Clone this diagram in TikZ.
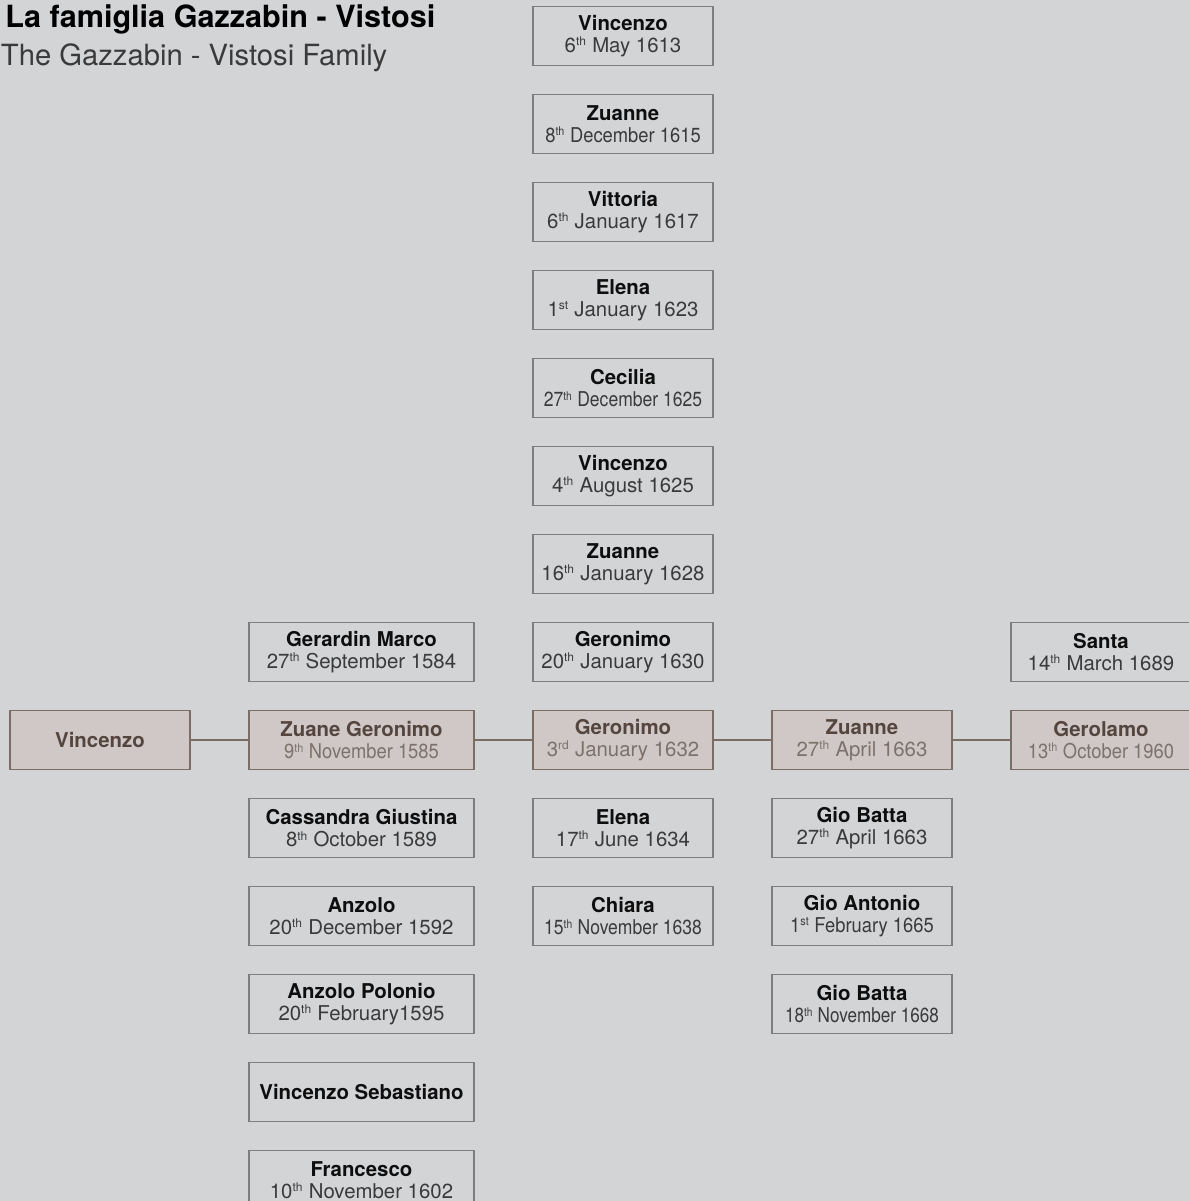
\documentclass[tikz,border=0pt]{standalone}
\usepackage{fontspec}
\setmainfont{TeX Gyre Heros}
\usetikzlibrary{positioning}
\definecolor{gBack}{HTML}{D3D4D6}
\definecolor{gFrame}{HTML}{7E7E7E}
\definecolor{gInk}{HTML}{0E0E0E}
\definecolor{gDate}{HTML}{3A3A3A}
\definecolor{lFill}{HTML}{CFC8C6}
\definecolor{lFrame}{HTML}{7B6C66}
\definecolor{lInk}{HTML}{55453F}
\definecolor{lDate}{HTML}{7D716D}
\colorlet{dateInk}{gDate}
\newcommand{\ord}[1]{\raisebox{0.62ex}{\fontsize{6}{6}\selectfont#1}\kern0.3pt\relax}
\newcommand{\born}[1]{\textcolor{dateInk}{#1}}
\newcommand{\tight}[1]{\scalebox{0.9}[1]{#1}}

\begin{document}
\begin{tikzpicture}[
  node distance=14.5pt and 29.5pt,
  person/.style={rectangle, draw=gFrame, line width=0.7pt, minimum width=90pt,
                 minimum height=29.5pt, inner sep=0pt, outer sep=0pt, align=center,
                 text=gInk, font=\fontsize{10.2}{11.2}\selectfont},
  wide/.style={person, minimum width=112.5pt},
  lin/.style={fill=lFill, draw=lFrame, text=lInk,
              execute at begin node=\colorlet{dateInk}{lDate}},
  kin/.style={draw=lFrame, line width=0.75pt},
]
\useasboundingbox[fill=gBack] (0,0) rectangle (594.5pt,-600.5pt);

% title
\node[anchor=base west, inner sep=0pt, font=\fontsize{15.3}{18}\selectfont\bfseries]
  (title) at (2.5pt,-13.5pt) {La famiglia Gazzabin - Vistosi};
\node[anchor=base west, inner sep=0pt, text=gDate, font=\fontsize{14.6}{18}\selectfont]
  (subtitle) at (0.3pt,-32.5pt) {The Gazzabin - Vistosi Family};

% line of descent
\node[person, lin] (v0) at (50pt,-370pt) {\bfseries Vincenzo};
\node[wide, lin, right=of v0] (z1) {\textbf{Zuane Geronimo}\\\born{\tight{9\ord{th} November 1585}}};
\node[person, lin, right=of z1] (g2) {\textbf{Geronimo}\\\born{3\ord{rd} January 1632}};
\node[person, lin, right=of g2] (z3) {\textbf{Zuanne}\\\born{27\ord{th} April 1663}};
\node[person, lin, right=of z3] (g4) {\textbf{Gerolamo}\\\born{\tight{13\ord{th} October 1960}}};

\draw[kin] (v0) -- (z1);
\draw[kin] (z1) -- (g2);
\draw[kin] (g2) -- (z3);
\draw[kin] (z3) -- (g4);

% children of Zuane Geronimo
\node[wide, above=of z1] (a1) {\textbf{Gerardin Marco}\\\born{27\ord{th} September 1584}};
\node[wide, below=of z1] (a2) {\textbf{Cassandra Giustina}\\\born{8\ord{th} October 1589}};
\node[wide, below=of a2] (a3) {\textbf{Anzolo}\\\born{20\ord{th} December 1592}};
\node[wide, below=of a3] (a4) {\textbf{Anzolo Polonio}\\\born{20\ord{th} February1595}};
\node[wide, below=of a4] (a5) {\bfseries Vincenzo Sebastiano};
\node[wide, below=of a5] (a6) {\textbf{Francesco}\\\born{10\ord{th} November 1602}};

% children of Geronimo
\node[person, above=of g2] (b8) {\textbf{Geronimo}\\\born{20\ord{th} January 1630}};
\node[person, above=of b8] (b7) {\textbf{Zuanne}\\\born{16\ord{th} January 1628}};
\node[person, above=of b7] (b6) {\textbf{Vincenzo}\\\born{4\ord{th} August 1625}};
\node[person, above=of b6] (b5) {\textbf{Cecilia}\\\born{\scalebox{0.86}[1]{27\ord{th} December 1625}}};
\node[person, above=of b5] (b4) {\textbf{Elena}\\\born{1\ord{st} January 1623}};
\node[person, above=of b4] (b3) {\textbf{Vittoria}\\\born{6\ord{th} January 1617}};
\node[person, above=of b3] (b2) {\textbf{Zuanne}\\\born{\tight{8\ord{th} December 1615}}};
\node[person, above=of b2] (b1) {\textbf{Vincenzo}\\\born{6\ord{th} May 1613}};
\node[person, below=of g2] (b9) {\textbf{Elena}\\\born{17\ord{th} June 1634}};
\node[person, below=of b9] (b10) {\textbf{Chiara}\\\born{\scalebox{0.86}[1]{15\ord{th} November 1638}}};

% children of Zuanne
\node[person, below=of z3] (c1) {\textbf{Gio Batta}\\\born{27\ord{th} April 1663}};
\node[person, below=of c1] (c2) {\textbf{Gio Antonio}\\\born{\tight{1\ord{st} February 1665}}};
\node[person, below=of c2] (c3) {\textbf{Gio Batta}\\\born{\scalebox{0.84}[1]{18\ord{th} November 1668}}};

% children of Gerolamo
\node[person, above=of g4] (d1) {\textbf{Santa}\\\born{14\ord{th} March 1689}};

\end{tikzpicture}
\end{document}
